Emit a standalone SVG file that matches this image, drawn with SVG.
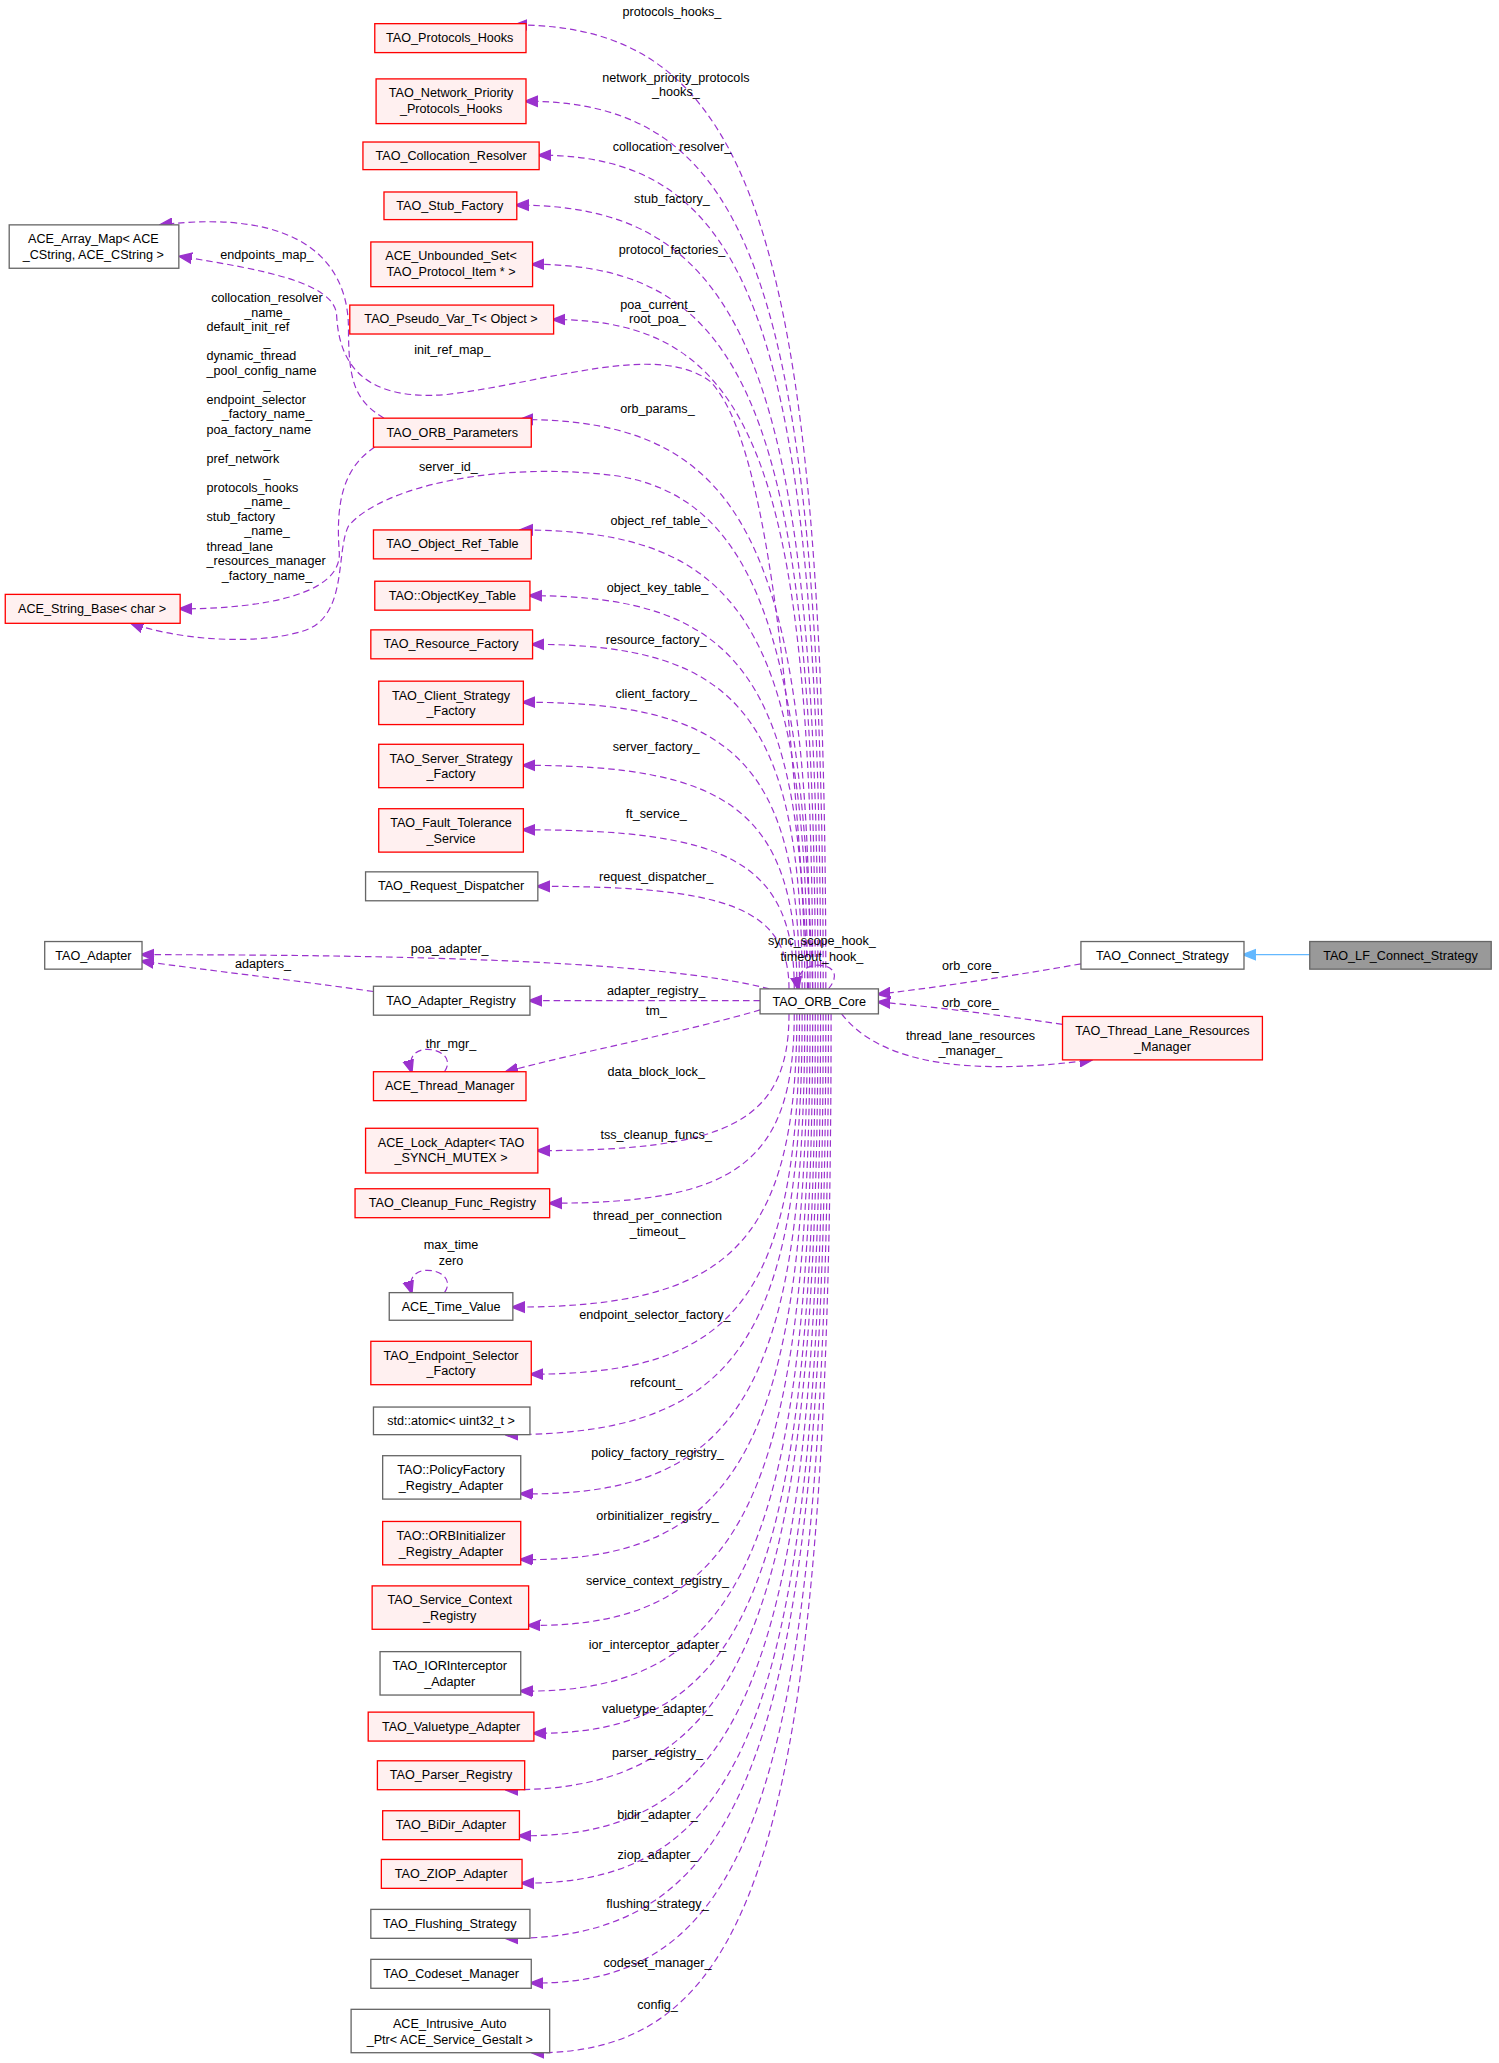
<svg xmlns="http://www.w3.org/2000/svg" width="1499" height="2063" viewBox="0 0 1499 2063">
<style>
text{font-family:"Liberation Sans",Arial,sans-serif;font-size:9.6px;fill:#000;text-anchor:middle}
.l{text-anchor:start}
.r rect{fill:#fff0f0;stroke:#ff0000;stroke-width:1}
.g rect{fill:#fff;stroke:#666;stroke-width:1}
.e path{fill:none;stroke:#9a32cd;stroke-width:0.9;stroke-dasharray:5,3;marker-end:url(#a)}
</style>
<defs>
<marker id="a" viewBox="0 0 10 10" refX="9" refY="5" markerWidth="10" markerHeight="10" orient="auto" markerUnits="userSpaceOnUse"><path d="M0,1 L10,5 L0,9 z" fill="#9a32cd" stroke="#9a32cd"/></marker>
<marker id="b" viewBox="0 0 10 10" refX="9" refY="5" markerWidth="10" markerHeight="10" orient="auto" markerUnits="userSpaceOnUse"><path d="M0,1 L10,5 L0,9 z" fill="#63b8ff" stroke="#63b8ff"/></marker>
</defs>
<rect width="1499" height="2063" fill="#fff"/>
<g transform="scale(1.315)">
<g id="edges">
<g class="e">
<path d="M628,752 C628,166 569,19 392,19"/>
<path d="M626,752 C626,212 570,77 400,77"/>
<path d="M624,752 C624,245 570,118 410,118"/>
<path d="M622,752 C622,275 565,156 393,156"/>
<path d="M620,752 C620,311 566,201 405,201"/>
<path d="M618,752 C618,345 569,243 421,243"/>
<path d="M616,752 C616,406 561,319 396,319"/>
<path d="M614,752 C614,473 560,403 396,403"/>
<path d="M612,752 C612,513 560,453 403,453"/>
<path d="M610,752 C610,542 559,490 405,490"/>
<path d="M608,752 C608,578 556,534 398,534"/>
<path d="M606,752 C606,616 554,582 398,582"/>
<path d="M604,752 C604,655 553,631 398,631"/>
<path d="M600,752 C600,690 552,674 409,674"/>
<path d="M615,752 C600,500 580,330 540,290 C500,260 420,290 340,300 C280,305 258,280 256,240 C255,215 200,205 137,195"/>
<path d="M292,318 C270,305 265,290 265,250 C265,200 230,158 122,171"/>
<path d="M285,340 C262,355 255,380 258,420 C260,452 200,463 137,463"/>
<path d="M618,752 C610,500 580,380 470,362 C380,350 290,370 265,400 C255,420 265,470 230,480 C190,492 130,485 100,474"/>
<path d="M585,752 C500,730 300,726 108,726"/>
<path d="M284,754 C220,745 160,738 108,731"/>
<path d="M578,761 L403,761"/>
<path d="M578,768 C520,785 440,800 385,815"/>
<path d="M338,815 C345,805 335,798 325,798 C315,798 310,805 313,815"/>
<path d="M338,983 C345,973 335,966 325,966 C315,966 310,973 313,983"/>
<path d="M630,752 C640,740 632,734 622,734 C612,734 605,741 607,752"/>
<path d="M600,771 C600,854 552,875 409,875"/>
<path d="M604,771 C604,886 558,915 418,915"/>
<path d="M606,771 C606,949 552,994 390,994"/>
<path d="M608,771 C608,990 557,1045 404,1045"/>
<path d="M610,771 C610,1027 554,1091 385,1091"/>
<path d="M612,771 C612,1063 558,1138 396,1136"/>
<path d="M614,771 C614,1103 560,1188 396,1186"/>
<path d="M616,771 C616,1143 562,1238 402,1236"/>
<path d="M618,771 C618,1183 563,1288 396,1286"/>
<path d="M620,771 C620,1209 566,1320 406,1318"/>
<path d="M622,771 C622,1243 563,1363 385,1361"/>
<path d="M624,771 C624,1271 567,1398 395,1396"/>
<path d="M626,771 C626,1300 569,1434 397,1432"/>
<path d="M628,771 C628,1333 567,1476 385,1474"/>
<path d="M630,771 C630,1361 573,1510 404,1508"/>
<path d="M632,771 C632,1403 575,1563 405,1561"/>
<path d="M822,733 C770,742 720,750 668,756"/>
<path d="M808,779 C760,772 715,766 668,762"/>
<path d="M640,771 C670,810 740,818 830,806"/>
</g>
<path d="M996,726 L946,726" fill="none" stroke="#63b8ff" stroke-width="1" marker-end="url(#b)"/>
<text x="511" y="12">protocols_hooks_</text>
<text x="514" y="62">network_priority_protocols</text><text x="514" y="73">_hooks_</text>
<text x="511" y="115">collocation_resolver_</text>
<text x="511" y="154">stub_factory_</text>
<text x="511" y="193">protocol_factories_</text>
<text x="500" y="235">poa_current_</text><text x="500" y="246">root_poa_</text>
<text x="344" y="269">init_ref_map_</text>
<text x="500" y="314">orb_params_</text>
<text x="341" y="358">server_id_</text>
<text x="501" y="399">object_ref_table_</text>
<text x="500" y="450">object_key_table_</text>
<text x="499" y="490">resource_factory_</text>
<text x="499" y="531">client_factory_</text>
<text x="499" y="571">server_factory_</text>
<text x="499" y="622">ft_service_</text>
<text x="499" y="670">request_dispatcher_</text>
<text x="342" y="725">poa_adapter_</text>
<text x="200" y="736">adapters_</text>
<text x="499" y="757">adapter_registry_</text>
<text x="499" y="772">tm_</text>
<text x="343" y="797">thr_mgr_</text>
<text x="499" y="818">data_block_lock_</text>
<text x="499" y="866">tss_cleanup_funcs_</text>
<text x="500" y="928">thread_per_connection</text><text x="500" y="940">_timeout_</text>
<text x="343" y="950">max_time</text><text x="343" y="962">zero</text>
<text x="498" y="1003">endpoint_selector_factory_</text>
<text x="499" y="1055">refcount_</text>
<text x="500" y="1108">policy_factory_registry_</text>
<text x="500" y="1156">orbinitializer_registry_</text>
<text x="500" y="1205">service_context_registry_</text>
<text x="500" y="1254">ior_interceptor_adapter_</text>
<text x="500" y="1303">valuetype_adapter_</text>
<text x="500" y="1336">parser_registry_</text>
<text x="500" y="1383">bidir_adapter_</text>
<text x="500" y="1414">ziop_adapter_</text>
<text x="500" y="1451">flushing_strategy_</text>
<text x="500" y="1496">codeset_manager_</text>
<text x="500" y="1528">config_</text>
<text x="625" y="719">sync_scope_hook_</text><text x="625" y="731">timeout_hook_</text>
<text x="738" y="738">orb_core_</text>
<text x="738" y="766">orb_core_</text>
<text x="738" y="791">thread_lane_resources</text><text x="738" y="802">_manager_</text>
<text x="203" y="197">endpoints_map_</text>
<text x="203" y="230">collocation_resolver</text>
<text x="203" y="241">_name_</text>
<text class="l" x="157" y="252">default_init_ref</text>
<text x="203" y="263">_</text>
<text class="l" x="157" y="274">dynamic_thread</text>
<text class="l" x="157" y="285">_pool_config_name</text>
<text x="203" y="296">_</text>
<text class="l" x="157" y="307">endpoint_selector</text>
<text x="203" y="318">_factory_name_</text>
<text class="l" x="157" y="330">poa_factory_name</text>
<text x="203" y="341">_</text>
<text class="l" x="157" y="352">pref_network</text>
<text x="203" y="363">_</text>
<text class="l" x="157" y="374">protocols_hooks</text>
<text x="203" y="385">_name_</text>
<text class="l" x="157" y="396">stub_factory</text>
<text x="203" y="407">_name_</text>
<text class="l" x="157" y="419">thread_lane</text>
<text class="l" x="157" y="430">_resources_manager</text>
<text x="203" y="441">_factory_name_</text>
</g>
<g id="n1" class="r"><rect x="285" y="18" width="115" height="22"/><text x="342" y="32">TAO_Protocols_Hooks</text></g>
<g id="n2" class="r"><rect x="286" y="60" width="114" height="34"/><text x="343" y="74">TAO_Network_Priority</text><text x="343" y="86">_Protocols_Hooks</text></g>
<g id="n3" class="r"><rect x="276" y="108" width="134" height="21"/><text x="343" y="122">TAO_Collocation_Resolver</text></g>
<g id="n4" class="r"><rect x="292" y="146" width="101" height="21"/><text x="342" y="160">TAO_Stub_Factory</text></g>
<g id="n5" class="r"><rect x="282" y="184" width="123" height="34"/><text x="343" y="198">ACE_Unbounded_Set&lt;</text><text x="343" y="210">TAO_Protocol_Item * &gt;</text></g>
<g id="n6" class="r"><rect x="266" y="232" width="155" height="22"/><text x="343" y="246">TAO_Pseudo_Var_T&lt; Object &gt;</text></g>
<g id="n7" class="r"><rect x="284" y="318" width="120" height="22"/><text x="344" y="332">TAO_ORB_Parameters</text></g>
<g id="n8" class="r"><rect x="284" y="403" width="120" height="22"/><text x="344" y="417">TAO_Object_Ref_Table</text></g>
<g id="n9" class="r"><rect x="285" y="442" width="118" height="22"/><text x="344" y="456">TAO::ObjectKey_Table</text></g>
<g id="n10" class="r"><rect x="282" y="479" width="123" height="22"/><text x="343" y="493">TAO_Resource_Factory</text></g>
<g id="n11" class="r"><rect x="288" y="518" width="110" height="33"/><text x="343" y="532">TAO_Client_Strategy</text><text x="343" y="544">_Factory</text></g>
<g id="n12" class="r"><rect x="288" y="566" width="110" height="33"/><text x="343" y="580">TAO_Server_Strategy</text><text x="343" y="592">_Factory</text></g>
<g id="n13" class="r"><rect x="288" y="615" width="110" height="33"/><text x="343" y="629">TAO_Fault_Tolerance</text><text x="343" y="641">_Service</text></g>
<g id="n14" class="g"><rect x="278" y="663" width="131" height="22"/><text x="343" y="677">TAO_Request_Dispatcher</text></g>
<g id="n15" class="g"><rect x="284" y="750" width="119" height="22"/><text x="343" y="764">TAO_Adapter_Registry</text></g>
<g id="n16" class="r"><rect x="284" y="815" width="116" height="22"/><text x="342" y="829">ACE_Thread_Manager</text></g>
<g id="n17" class="r"><rect x="278" y="858" width="131" height="34"/><text x="343" y="872">ACE_Lock_Adapter&lt; TAO</text><text x="343" y="884">_SYNCH_MUTEX &gt;</text></g>
<g id="n18" class="r"><rect x="270" y="904" width="148" height="22"/><text x="344" y="918">TAO_Cleanup_Func_Registry</text></g>
<g id="n19" class="g"><rect x="296" y="983" width="94" height="21"/><text x="343" y="997">ACE_Time_Value</text></g>
<g id="n20" class="r"><rect x="282" y="1020" width="122" height="33"/><text x="343" y="1034">TAO_Endpoint_Selector</text><text x="343" y="1046">_Factory</text></g>
<g id="n21" class="g"><rect x="284" y="1070" width="119" height="21"/><text x="343" y="1084">std::atomic&lt; uint32_t &gt;</text></g>
<g id="n22" class="g"><rect x="291" y="1107" width="105" height="33"/><text x="343" y="1121">TAO::PolicyFactory</text><text x="343" y="1133">_Registry_Adapter</text></g>
<g id="n23" class="r"><rect x="291" y="1157" width="105" height="33"/><text x="343" y="1171">TAO::ORBInitializer</text><text x="343" y="1183">_Registry_Adapter</text></g>
<g id="n24" class="r"><rect x="283" y="1206" width="119" height="33"/><text x="342" y="1220">TAO_Service_Context</text><text x="342" y="1232">_Registry</text></g>
<g id="n25" class="g"><rect x="289" y="1256" width="107" height="33"/><text x="342" y="1270">TAO_IORInterceptor</text><text x="342" y="1282">_Adapter</text></g>
<g id="n26" class="r"><rect x="280" y="1302" width="126" height="22"/><text x="343" y="1316">TAO_Valuetype_Adapter</text></g>
<g id="n27" class="r"><rect x="287" y="1339" width="112" height="22"/><text x="343" y="1353">TAO_Parser_Registry</text></g>
<g id="n28" class="r"><rect x="291" y="1377" width="104" height="22"/><text x="343" y="1391">TAO_BiDir_Adapter</text></g>
<g id="n29" class="r"><rect x="290" y="1414" width="107" height="22"/><text x="343" y="1428">TAO_ZIOP_Adapter</text></g>
<g id="n30" class="g"><rect x="282" y="1452" width="121" height="22"/><text x="342" y="1466">TAO_Flushing_Strategy</text></g>
<g id="n31" class="g"><rect x="282" y="1490" width="122" height="22"/><text x="343" y="1504">TAO_Codeset_Manager</text></g>
<g id="n32" class="g"><rect x="267" y="1528" width="151" height="33"/><text x="342" y="1542">ACE_Intrusive_Auto</text><text x="342" y="1554">_Ptr&lt; ACE_Service_Gestalt &gt;</text></g>
<g id="arraymap" class="g"><rect x="7" y="171" width="129" height="33"/><text x="71" y="185">ACE_Array_Map&lt; ACE</text><text x="71" y="197">_CString, ACE_CString &gt;</text></g>
<g id="stringbase" class="r"><rect x="4" y="452" width="133" height="22"/><text x="70" y="466">ACE_String_Base&lt; char &gt;</text></g>
<g id="adapter" class="g"><rect x="34" y="716" width="74" height="21"/><text x="71" y="730">TAO_Adapter</text></g>
<g id="orbcore" class="g"><rect x="578" y="752" width="90" height="19"/><text x="623" y="765">TAO_ORB_Core</text></g>
<g id="connect" class="g"><rect x="822" y="716" width="124" height="21"/><text x="884" y="730">TAO_Connect_Strategy</text></g>
<g id="lfconnect"><rect x="996" y="716" width="138" height="21" fill="#999" stroke="#666"/><text x="1065" y="730">TAO_LF_Connect_Strategy</text></g>
<g id="tlrm" class="r"><rect x="808" y="773" width="152" height="33"/><text x="884" y="787">TAO_Thread_Lane_Resources</text><text x="884" y="799">_Manager</text></g>
</g>
</svg>
